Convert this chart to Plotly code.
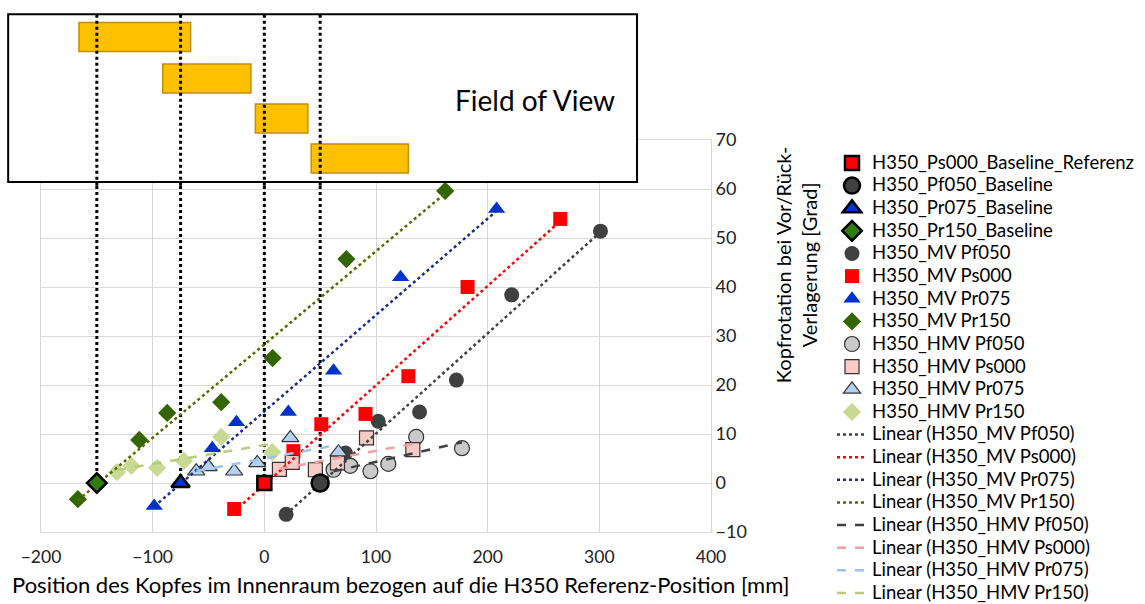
import numpy as np
import plotly.graph_objects as go

# ---- data (position [mm], head rotation [deg]) ----
mv_pf050_x = [19.5, 72.6, 102, 139, 172, 221.5, 301]
mv_pf050_y = [-6.4, 6.1, 12.6, 14.5, 21.0, 38.4, 51.4]
mv_ps000_x = [-27, 26, 51, 90.6, 129, 182, 265]
mv_ps000_y = [-5.3, 6.5, 12.0, 14.1, 21.8, 40.0, 53.9]
mv_pr075_x = [-98.6, -46.6, -25, 21.5, 62, 122, 208]
mv_pr075_y = [-4.7, 7.1, 12.4, 14.5, 22.9, 42.0, 55.9]
mv_pr150_x = [-167, -112, -87, -38.6, 7.4, 73.5, 162]
mv_pr150_y = [-3.3, 8.8, 14.3, 16.5, 25.5, 45.7, 59.6]

hmv_pf050_x = [62, 77, 95, 111, 136, 177]
hmv_pf050_y = [2.7, 3.5, 2.4, 3.9, 9.4, 7.1]
hmv_ps000_x = [13.5, 25, 45.7, 65.5, 91.5, 133]
hmv_ps000_y = [2.8, 4.2, 2.7, 4.1, 9.2, 6.8]
hmv_pr075_x = [-61, -50, -27, -6.3, 23.3, 66.4]
hmv_pr075_y = [2.4, 3.3, 2.4, 4.1, 9.2, 6.3]
hmv_pr150_x = [-132, -119, -96, -72, -38.6, 7.2]
hmv_pr150_y = [2.2, 3.5, 3.1, 4.5, 9.4, 6.3]

baseline_names = ["H350_Ps000_Baseline_Referenz", "H350_Pf050_Baseline",
                  "H350_Pr075_Baseline", "H350_Pr150_Baseline"]
baseline_x = [0, 50, -75, -150]
baseline_y = [0, 0, 0, 0]

# field-of-view ranges per position [mm]
fov_start = [-166, -91, -8, 42]
fov_end = [-66, -12, 39, 129]

x_range = [-200, 400]
y_range = [-10, 70]

FONT = "Lato"
LEGEND_TEXT = 18.5


def legend_label(text):
    return f'<span style="font-size:{LEGEND_TEXT}px">{text}</span>'


fig = go.Figure()

# vertical reference lines at the baseline positions (inside the plot)
for bx, by in zip(baseline_x, baseline_y):
    fig.add_trace(go.Scatter(x=[bx, bx], y=[by, y_range[1]], mode="lines",
                             line=dict(color="black", width=3, dash="3px,3px"),
                             showlegend=False, hoverinfo="skip"))

mv = [
    ("H350_MV Pf050", mv_pf050_x, mv_pf050_y, "circle", "#404040", 15, "#404040", "#404040"),
    ("H350_MV Ps000", mv_ps000_x, mv_ps000_y, "square", "#FF0000", 14, "#FF0000", "#FF0000"),
    ("H350_MV Pr075", mv_pr075_x, mv_pr075_y, "triangle-up", "#0033CC", 15, "#0033CC", "#1A2A8C"),
    ("H350_MV Pr150", mv_pr150_x, mv_pr150_y, "diamond", "#336600", 14, "#336600", "#556B00"),
]
hmv = [
    ("H350_HMV Pf050", hmv_pf050_x, hmv_pf050_y, "circle", "#C9C9C9", 15, "#333333", "#404040"),
    ("H350_HMV Ps000", hmv_ps000_x, hmv_ps000_y, "square", "#F8CBC6", 14, "#333333", "#F2A0A0"),
    ("H350_HMV Pr075", hmv_pr075_x, hmv_pr075_y, "triangle-up", "#B4D2F0", 15, "#333333", "#9DC3E6"),
    ("H350_HMV Pr150", hmv_pr150_x, hmv_pr150_y, "diamond", "#C8DA92", 14, "#C8DA92", "#B8CC7E"),
]

rank = 10
for name, xs, ys, sym, col, size, lc, _ in mv:
    fig.add_trace(go.Scatter(x=xs, y=ys, mode="markers", name=legend_label(name),
                             legendrank=100 + rank,
                             marker=dict(symbol=sym, color=col, size=size,
                                         line=dict(color=lc, width=0))))
    rank += 1
for name, xs, ys, sym, col, size, lc, _ in hmv:
    fig.add_trace(go.Scatter(x=xs, y=ys, mode="markers", name=legend_label(name),
                             legendrank=100 + rank,
                             marker=dict(symbol=sym, color=col, size=size,
                                         line=dict(color=lc, width=1.2 if lc != col else 0))))
    rank += 1

# linear trendlines
for group, dash in ((mv, "dot"), (hmv, "dash")):
    for name, xs, ys, _, _, _, _, tc in group:
        k, d = np.polyfit(xs, ys, 1)
        x0, x1 = min(xs), max(xs)
        fig.add_trace(go.Scatter(x=[x0, x1], y=[k * x0 + d, k * x1 + d], mode="lines",
                                 name=legend_label(f"Linear ({name})"), legendrank=100 + rank,
                                 line=dict(color=tc, width=2.5, dash=dash)))
        rank += 1

# baseline positions
base_style = [("square", "#FF0000", 14), ("circle", "#404040", 17),
              ("triangle-up", "#0033CC", 16), ("diamond", "#2E7D0F", 15)]
for i, (name, bx, by) in enumerate(zip(baseline_names, baseline_x, baseline_y)):
    sym, col, size = base_style[i]
    fig.add_trace(go.Scatter(x=[bx], y=[by], mode="markers", name=legend_label(name),
                             legendrank=1 + i,
                             marker=dict(symbol=sym, color=col, size=size,
                                         line=dict(color="black", width=2.5))))

# Field of View panel
box_x0, box_x1 = -0.049, 0.8896
box_y0, box_y1 = 0.893, 1.321
fig.add_shape(type="rect", xref="paper", yref="paper", x0=box_x0, x1=box_x1,
              y0=box_y0, y1=box_y1, fillcolor="white", line=dict(color="black", width=2),
              layer="above")
row_tops = [1.3, 1.194, 1.092, 0.99]
row_h = 0.074
for s, e, top in zip(fov_start, fov_end, row_tops):
    fig.add_shape(type="rect", xref="x", yref="paper", x0=s, x1=e, y0=top - row_h, y1=top,
                  fillcolor="#FFC000", line=dict(color="#BF9000", width=1.5), layer="above")
for bx in baseline_x:
    fig.add_shape(type="line", xref="x", yref="paper", x0=bx, x1=bx, y0=box_y0 - 0.01,
                  y1=box_y1, line=dict(color="black", width=3, dash="3px,3px"), layer="above")
fig.add_annotation(text="Field of View", xref="paper", yref="paper", x=0.737, y=1.102,
                   xanchor="center", yanchor="middle", showarrow=False,
                   font=dict(family=FONT, size=28, color="black"))

# axis titles
fig.add_annotation(text="Position des Kopfes im Innenraum bezogen auf die H350 Referenz-Position [mm]",
                   xref="paper", yref="paper", x=0.537, y=-0.135, xanchor="center",
                   yanchor="middle", showarrow=False,
                   font=dict(family=FONT, size=22, color="black"))
fig.add_annotation(text="Kopfrotation bei Vor/Rück-<br>Verlagerung [Grad]",
                   xref="paper", yref="paper", x=1.127, y=0.681, xanchor="center",
                   yanchor="middle", showarrow=False, textangle=-90,
                   font=dict(family=FONT, size=20, color="black"))

grid = "#D9D9D9"
fig.update_xaxes(range=x_range, dtick=100, showgrid=True, gridcolor=grid, zeroline=False,
                 showline=True, linecolor=grid, mirror=True, ticklabelstandoff=9,
                 tickfont=dict(family=FONT, size=17.5, color="#222222"))
fig.update_yaxes(range=y_range, dtick=10, side="right", showgrid=True, gridcolor=grid,
                 zeroline=False, showline=True, linecolor=grid, mirror=True,
                 tickfont=dict(family=FONT, size=18, color="#222222"))

fig.update_layout(
    width=1145, height=604,
    margin=dict(l=41, r=434, t=140, b=72, autoexpand=False),
    paper_bgcolor="white", plot_bgcolor="white",
    font=dict(family=FONT, size=16, color="black"),
    showlegend=True,
    legend=dict(x=1.1806, y=0.983, xanchor="left", yanchor="top", tracegroupgap=0,
                font=dict(family=FONT, size=15.1, color="black"), bgcolor="rgba(0,0,0,0)",
                itemwidth=30, maxheight=900),
)

fig.write_html("out.html")
